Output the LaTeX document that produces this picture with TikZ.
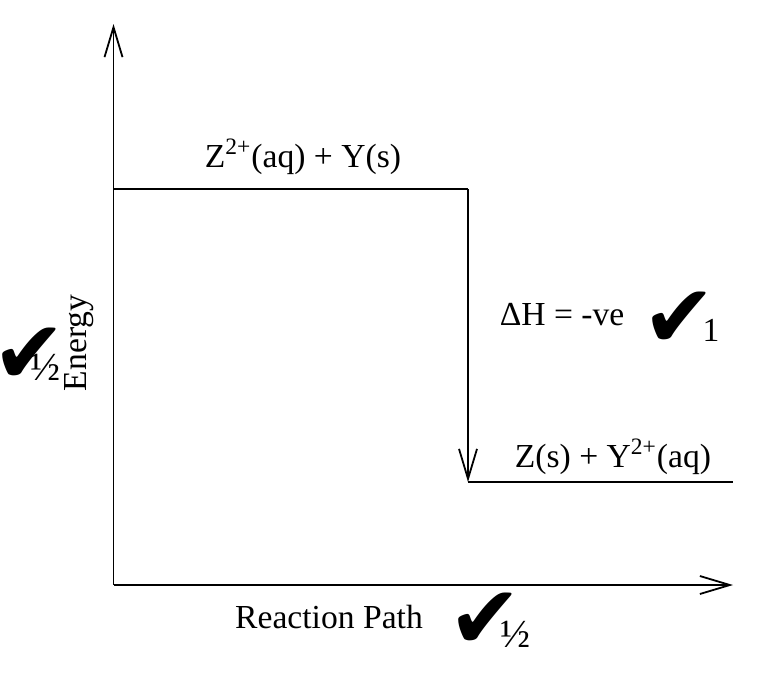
\documentclass[tikz,border=0pt]{standalone}
\usepackage{fontspec}
\setmainfont{Liberation Serif}
\newfontfamily\symfont{DejaVu Sans}
\usetikzlibrary{arrows.meta}
\newcommand{\tickmark}{\makebox[22pt]{✔}}
\tikzset{
  lbl/.style={inner sep=0pt, anchor=base, font=\fontsize{16.8}{20}\selectfont},
  half/.style={inner sep=0pt, anchor=base, font=\fontsize{20}{24}\selectfont},
  tick/.style={inner sep=0pt, font=\symfont\fontsize{44}{44}\selectfont},
  barb/.style={-{Straight Barb[length=15pt,width=9pt]}},
}
\begin{document}
\begin{tikzpicture}[x=0.5pt,y=-0.5pt,line width=0.9pt]
  \useasboundingbox (0,0) rectangle (779,680);
  % axes and levels
  \draw
    (113.5,585) coordinate (o)
    (113.5,24) coordinate (ytop)
    (733,585) coordinate (xend)
    (113.5,189) coordinate (hi0)
    (468,189) coordinate (hi1)
    (468,482) coordinate (lo0)
    (733,482) coordinate (lo1);
  \begin{scope}[barb]
    \draw (o) to (ytop);
    \draw (o) to (xend);
    \draw (hi1) to (lo0);
  \end{scope}
  \draw (hi0) to (hi1);
  \draw (lo0) to (lo1);
  % labels
  \node[lbl] (react) at (303,167) {Z\textsuperscript{2+}(aq) + Y(s)};
  \node[lbl] (prod) at (613,467) {Z(s) + Y\textsuperscript{2+}(aq)};
  \node[lbl] (dh) at (562,325) {ΔH = -ve};
  \node[lbl, rotate=90] (energy) at (86,343) {Energy};
  \node[lbl] (path) at (329,628) {Reaction Path};
  % marks
  \node[tick] (tickdh) at (679,320) {\tickmark};
  \node[lbl] (markdh) at (711,341) {1};
  \node[tick] (tickey) at (29,356) {\tickmark};
  \node[half] (markey) at (45,380) {½};
  \node[tick] (tickrp) at (485,621) {\tickmark};
  \node[half] (markrp) at (515,647) {½};
\end{tikzpicture}
\end{document}
